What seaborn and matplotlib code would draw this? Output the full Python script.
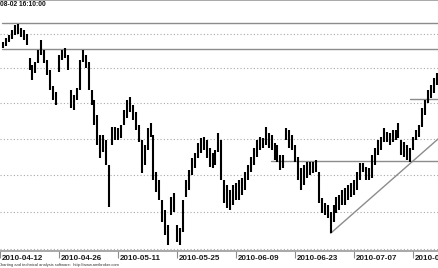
import matplotlib
matplotlib.use("Agg")
import matplotlib.pyplot as plt
import seaborn as sns
import pandas as pd
from matplotlib.transforms import blended_transform_factory, offset_copy

# ---- data ----
bar_index = list(range(1, 149))
bar_high = [6277, 6288, 6297, 6312, 6326, 6329, 6318, 6312, 6300, 6230,
            6210, 6219, 6253, 6283, 6253, 6224, 6195, 6150, 6132, 6239,
            6253, 6259, 6239, 6138, 6124, 6144, 6224, 6253, 6239, 6219,
            6138, 6109, 6067, 6011, 6011, 5997, 5928, 6033, 6033, 6030,
            6039, 6081, 6109, 6118, 6095, 6075, 6039, 5997, 5983, 6030,
            6045, 6011, 5908, 5886, 5832, 5804, 5764, 5840, 5851, 5764,
            5756, 5832, 5886, 5914, 5947, 5961, 5988, 6002, 6005, 5997,
            5975, 5961, 5969, 6016, 5997, 5886, 5872, 5859, 5872, 5878,
            5886, 5892, 5908, 5928, 5950, 5975, 5997, 6005, 6002, 6033,
            6016, 6011, 5988, 5983, 5955, 5955, 6030, 6025, 6011, 5983,
            5950, 5919, 5928, 5937, 5937, 5937, 5941, 5908, 5837, 5823,
            5818, 5799, 5818, 5840, 5845, 5859, 5864, 5872, 5878, 5886,
            5908, 5934, 5934, 5922, 5919, 5955, 5975, 5997, 6005, 6030,
            6019, 6016, 6025, 6025, 6045, 5997, 5991, 5983, 5975, 6005,
            6025, 6039, 6087, 6109, 6138, 6152, 6172, 6187]
bar_low = [6259, 6265, 6277, 6285, 6297, 6300, 6291, 6283, 6268, 6195,
           6167, 6187, 6216, 6239, 6216, 6181, 6138, 6109, 6095, 6190,
           6224, 6230, 6195, 6087, 6081, 6109, 6138, 6219, 6201, 6138,
           6095, 6039, 5983, 5947, 5963, 5928, 5812, 5983, 5997, 5997,
           6002, 6039, 6059, 6075, 6053, 6025, 5991, 5905, 5928, 5969,
           6005, 5886, 5853, 5832, 5772, 5737, 5711, 5791, 5799, 5719,
           5711, 5745, 5840, 5859, 5900, 5919, 5947, 5961, 5969, 5947,
           5922, 5919, 5928, 5963, 5886, 5823, 5810, 5804, 5818, 5832,
           5832, 5845, 5859, 5886, 5908, 5928, 5950, 5969, 5975, 5983,
           5975, 5969, 5941, 5937, 5914, 5919, 5997, 5975, 5969, 5937,
           5886, 5859, 5872, 5892, 5900, 5905, 5908, 5823, 5796, 5791,
           5783, 5743, 5772, 5796, 5804, 5818, 5818, 5832, 5840, 5845,
           5859, 5886, 5908, 5886, 5886, 5892, 5928, 5955, 5969, 5991,
           5991, 5983, 5991, 5997, 6002, 5955, 5950, 5941, 5937, 5969,
           5997, 6005, 6033, 6067, 6101, 6115, 6130, 6152]

date_ticks = [0, 20, 40, 60, 80, 100, 120, 140]
date_labels = ["2010-04-12", "2010-04-26", "2010-05-11", "2010-05-25",
               "2010-06-09", "2010-06-23", "2010-07-07", "2010-07-21"]
grid_levels = [5700, 5800, 5900, 6000, 6100, 6200, 6300]

# user-drawn study lines: (x_start, x_end, y_start, y_end)
study_x0 = [0.6, 0.6, 91.7, 138.9, 112.0]
study_x1 = [150, 150, 150, 150, 150]
study_y0 = [6331, 6256, 5939, 6112, 5742]
study_y1 = [6331, 6256, 5939, 6112, 6011]

title_text = "2010-08-02 16:10:00"
footer_text = "Charting and technical analysis software:  http://www.amibroker.com"

# ---- drawing ----
sns.set_theme(style="white")
plt.rcParams["font.family"] = ["Liberation Sans", "DejaVu Sans"]

W, H = 439, 268
fig = plt.figure(figsize=(W / 100, H / 100), dpi=100)
ax = fig.add_axes([0, 17 / H, 1, 251 / H])
ax.set_yscale("log")
ax.set_xlim(0.6745, 148.73)
ax.set_ylim(5695, 6400)

for lv in grid_levels:
    ax.axhline(lv, color="#a8a8a8", lw=0.8, ls=(0, (1, 2)), zorder=1)

for x0, x1, y0, y1 in zip(study_x0, study_x1, study_y0, study_y1):
    seg = pd.DataFrame({"x": [x0, x1], "y": [y0, y1]})
    sns.lineplot(data=seg, x="x", y="y", ax=ax, color="#8c8c8c", lw=1.0,
                 estimator=None, sort=False, zorder=2)

ax.vlines(bar_index, bar_low, bar_high, color="black", lw=1.5, zorder=3)

for s in ["left", "right"]:
    ax.spines[s].set_visible(False)
for s in ["top", "bottom"]:
    ax.spines[s].set_color("#9a9a9a")
    ax.spines[s].set_linewidth(1.2)

ax.set_yticks([])
ax.yaxis.set_minor_locator(matplotlib.ticker.NullLocator())
ax.set_xticks(date_ticks)
ax.set_xticklabels([])
ax.tick_params(axis="x", direction="out", length=5, width=0.8,
               color="#8c8c8c", bottom=True)
ax.set_xlabel("")
ax.set_ylabel("")

trans = blended_transform_factory(ax.transData, fig.transFigure)
for t, lab in zip(date_ticks, date_labels):
    ax.text(t, 1 - 258 / H, lab, transform=offset_copy(trans, fig=fig, x=1.5, units="dots"),
            ha="left", va="center", fontsize=5.8, fontweight="bold",
            color="#1a1a1a", clip_on=False)

fig.text(-17 / W, 1 - 4.3 / H, title_text, ha="left", va="center",
         fontsize=4.75, fontweight="bold", color="#111111")
fig.text(-2.5 / W, 1 - 265 / H, footer_text, ha="left", va="center",
         fontsize=2.9, color="#333333")

fig.savefig("out.png", dpi=100)
